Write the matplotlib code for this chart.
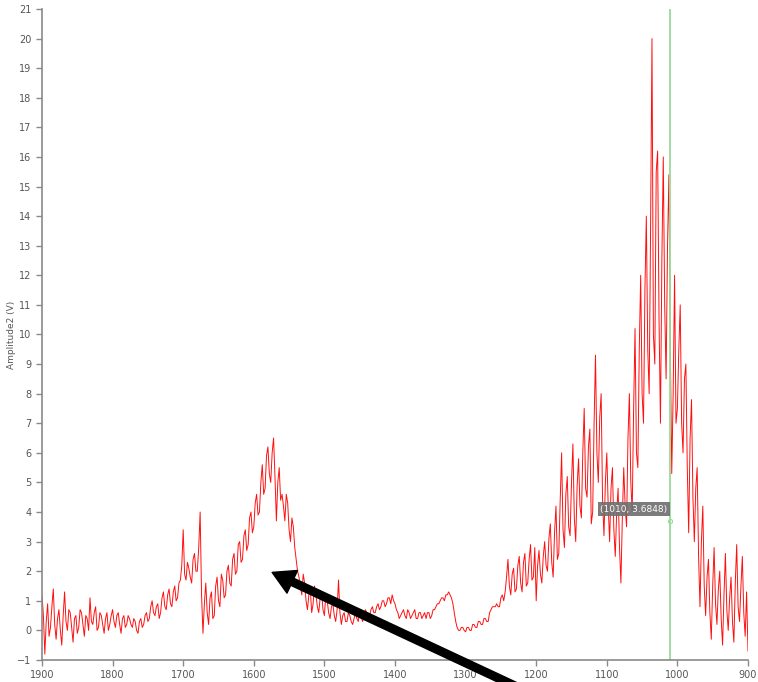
import numpy as np
import matplotlib
matplotlib.use("Agg")
import matplotlib.pyplot as plt


# Wellenzahl-Achse: 1900 .. 900, Schritt 2
WAVENUMBER_START = 1900
WAVENUMBER_STOP = 900
WAVENUMBER_STEP = 2

amp_1900_1802 = [1.2, 0.5, -0.8, 0.3, 0.9, -0.2, 0.1, 0.8, 1.4, 0.2,
                 -0.3, 0.4, 0.7, 0.0, -0.5, 0.5, 1.3, 0.3, 0.0, 0.7,
                 0.6, 0.1, -0.4, 0.4, 0.5, -0.1, 0.1, 0.7, 0.6, 0.2,
                 -0.2, 0.5, 0.4, 0.0, 1.1, 0.3, 0.2, 0.6, 0.8, 0.0,
                 0.1, 0.6, 0.5, 0.2, -0.1, 0.4, 0.6, 0.0, 0.2, 0.5]
amp_1800_1702 = [0.7, 0.3, 0.1, 0.5, 0.6, 0.2, -0.1, 0.4, 0.5, 0.1,
                 0.2, 0.5, 0.4, 0.2, 0.1, 0.4, 0.3, 0.0, -0.1, 0.3,
                 0.4, 0.1, 0.2, 0.5, 0.6, 0.3, 0.4, 0.8, 1.0, 0.6,
                 0.5, 0.8, 0.9, 0.4, 0.6, 1.1, 1.3, 0.8, 0.7, 1.2,
                 1.4, 0.9, 0.8, 1.3, 1.5, 1.0, 1.1, 1.6, 1.7, 2.2]
amp_1700_1602 = [3.4, 1.9, 1.7, 2.3, 2.1, 1.8, 1.6, 2.4, 2.6, 2.0,
                 2.0, 2.8, 4.0, 1.2, -0.1, 0.9, 1.6, 0.6, 0.2, 1.1,
                 1.3, 0.4, 0.5, 1.5, 1.8, 1.0, 0.8, 1.9, 1.7, 1.1,
                 1.2, 2.0, 2.2, 1.6, 1.5, 2.4, 2.6, 1.9, 2.0, 2.9,
                 3.0, 2.3, 2.4, 3.2, 3.4, 2.7, 2.9, 3.8, 4.0, 3.3]
amp_1600_1502 = [3.5, 4.3, 4.6, 3.9, 4.0, 5.0, 5.6, 4.6, 4.8, 5.9,
                 6.2, 5.3, 5.0, 6.0, 6.5, 5.2, 3.7, 5.0, 5.5, 4.4,
                 4.6, 4.2, 3.7, 4.6, 4.3, 3.4, 3.0, 3.8, 3.5, 2.8,
                 2.4, 2.0, 1.8, 1.5, 1.2, 1.9, 1.6, 1.0, 0.7, 1.2,
                 1.4, 0.6, 0.9, 1.5, 1.2, 0.8, 0.6, 1.1, 1.3, 0.7]
amp_1500_1402 = [0.5, 1.2, 1.0, 0.6, 0.4, 0.8, 0.9, 0.5, 0.3, 0.7,
                 1.7, 0.6, 0.2, 0.5, 0.6, 0.3, 0.3, 0.6, 0.5, 0.3,
                 0.2, 0.4, 0.6, 0.4, 0.3, 0.7, 0.5, 0.3, 0.4, 0.7,
                 0.6, 0.4, 0.5, 0.7, 0.8, 0.6, 0.6, 0.8, 0.9, 0.7,
                 0.8, 1.0, 1.0, 0.8, 0.9, 1.1, 1.1, 0.9, 1.2, 1.0]
amp_1400_1302 = [0.9, 0.7, 0.6, 0.4, 0.5, 0.6, 0.7, 0.5, 0.4, 0.7,
                 0.6, 0.4, 0.5, 0.6, 0.7, 0.4, 0.4, 0.6, 0.6, 0.4,
                 0.5, 0.6, 0.4, 0.6, 0.6, 0.4, 0.5, 0.7, 0.7, 0.8,
                 0.9, 0.9, 1.0, 1.1, 1.1, 1.0, 1.2, 1.2, 1.3, 1.2,
                 1.1, 0.9, 0.6, 0.3, 0.1, 0.0, 0.0, 0.1, 0.1, 0.0]
amp_1300_1202 = [-0.05, 0.1, 0.1, 0.0, 0.0, 0.2, 0.2, 0.1, 0.1, 0.3,
                 0.3, 0.2, 0.2, 0.4, 0.4, 0.3, 0.3, 0.6, 0.7, 0.8,
                 0.8, 0.8, 0.9, 0.8, 0.8, 1.1, 1.2, 1.0, 1.3, 1.8,
                 2.4, 1.5, 1.2, 1.9, 2.1, 1.3, 1.4, 2.2, 2.5, 1.6,
                 1.3, 2.3, 2.6, 1.5, 1.6, 2.4, 2.9, 1.7, 1.8, 2.8]
amp_1200_1102 = [1.0, 2.2, 2.7, 1.9, 1.6, 2.5, 3.0, 2.2, 2.0, 3.1,
                 3.6, 2.3, 1.8, 3.3, 4.2, 2.4, 2.6, 4.4, 6.0, 3.4,
                 2.8, 4.6, 5.2, 3.5, 3.2, 5.0, 6.3, 3.8, 3.0, 4.9,
                 5.8, 4.2, 3.8, 6.0, 7.5, 4.8, 4.5, 6.2, 6.8, 3.6,
                 4.0, 7.0, 9.3, 6.0, 5.0, 7.2, 8.0, 4.4, 3.2, 5.0]
amp_1100_1002 = [6.0, 4.2, 3.0, 4.8, 5.5, 3.4, 2.5, 4.0, 4.8, 2.8,
                 1.6, 3.8, 5.5, 4.2, 3.5, 6.5, 8.0, 5.0, 4.0, 7.5,
                 10.2, 6.0, 5.5, 9.5, 12.0, 8.0, 7.0, 11.5, 14.0, 9.5,
                 8.0, 13.5, 20.0, 10.0, 9.0, 15.5, 16.2, 10.5, 7.0, 12.5,
                 16.0, 11.0, 8.5, 13.0, 15.4, 9.5, 5.3, 8.0, 12.0, 7.0]
amp_1000_900 = [7.5, 9.5, 11.0, 7.0, 6.0, 8.5, 9.0, 5.5, 3.3, 6.5,
                7.8, 4.5, 3.0, 4.8, 5.5, 2.5, 0.8, 3.0, 4.2, 1.5,
                0.5, 1.8, 2.4, 0.6, -0.3, 1.5, 2.8, 0.9, 0.2, 1.4,
                2.0, 0.4, -0.5, 1.2, 2.6, 0.7, 0.0, 1.1, 1.8, 0.3,
                -0.4, 1.6, 2.9, 0.8, 0.3, 1.5, 2.5, 0.6, -0.2, 1.3,
                -0.7]

CURSOR_X = 1010
CURSOR_Y = 3.6848
CURSOR_TEXT = "(1010, 3.6848)"

X_TICKS = [1900, 1800, 1700, 1600, 1500, 1400, 1300, 1200, 1100, 1000, 900]
Y_TICKS = list(range(-1, 22))
Y_LABEL = "Amplitude2 (V)"

AXIS_GREY = "#8a8a8a"
TEXT_GREY = "#555555"


def baue_daten():
    """Setzt die Bloecke zu einer Kurve zusammen."""
    amp = (amp_1900_1802 + amp_1800_1702 + amp_1700_1602 + amp_1600_1502
           + amp_1500_1402 + amp_1400_1302 + amp_1300_1202 + amp_1200_1102
           + amp_1100_1002 + amp_1000_900)
    wn = np.arange(WAVENUMBER_START, WAVENUMBER_STOP - 1, -WAVENUMBER_STEP)
    if len(wn) != len(amp):
        print(f"Laengen passen nicht: {len(wn)} vs {len(amp)}")
        wn = wn[:len(amp)]
    return wn, np.array(amp)


def main():
    wn, amp = baue_daten()

    fig = plt.figure(figsize=(7.58, 6.82), dpi=100)
    ax = fig.add_axes([0.0554, 0.0323, 0.9314, 0.9545])

    ax.plot(wn, amp, color="#ff1010", lw=0.7)

    # Cursor-Linie gruen
    ax.axvline(CURSOR_X, color="#9ada9a", lw=1.3)
    ax.plot([CURSOR_X], [CURSOR_Y], marker="o", ms=3, mfc="none",
            mec="#9ada9a", mew=0.8)
    ax.text(CURSOR_X + 4, 4.1, CURSOR_TEXT, ha="right", va="center",
            fontsize=6.5, color="white",
            bbox=dict(boxstyle="square,pad=0.3", fc="#6e6e6e", ec="none", alpha=0.9))

    ax.set_xlim(WAVENUMBER_START, WAVENUMBER_STOP)
    ax.set_ylim(-1, 21)
    ax.set_xticks(X_TICKS)
    ax.set_yticks(Y_TICKS)
    ax.set_ylabel(Y_LABEL, fontsize=6.5, color=TEXT_GREY, labelpad=1)

    for side in ["top", "right"]:
        ax.spines[side].set_visible(False)
    for side in ["left", "bottom"]:
        ax.spines[side].set_color(AXIS_GREY)
        ax.spines[side].set_linewidth(1.2)
    ax.tick_params(axis="both", colors=AXIS_GREY, labelcolor=TEXT_GREY,
                   labelsize=7, length=4, width=1)

    # schwarzer Pfeil
    ax.annotate("", xy=(1574, 1.96), xytext=(1228, -1.9),
                annotation_clip=False,
                arrowprops=dict(facecolor="black", edgecolor="black",
                                width=5.5, headwidth=18, headlength=16))

    fig.savefig("out.png", dpi=100)


if __name__ == "__main__":
    main()
